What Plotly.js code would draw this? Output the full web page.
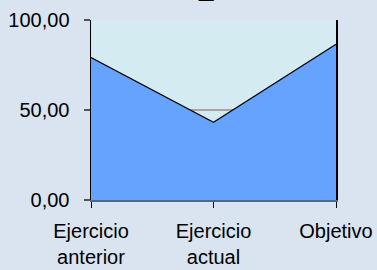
<!DOCTYPE html>
<html>
<head>
<meta charset="utf-8">
<script src="https://cdn.plot.ly/plotly-3.0.1.min.js"></script>
<style>html,body{margin:0;padding:0;background:#d9e4f0;}#chart{width:377px;height:270px;}</style>
</head>
<body>
<div id="chart"></div>
<script>
var categories = ["Ejercicio<br>anterior", "Ejercicio<br>actual", "Objetivo"];
var values = [79.1, 43.2, 86.5];
var yTickVals = [0, 50, 100];
var yTickText = ["0,00", "50,00", "100,00"];

var trace = {
  x: categories,
  y: values,
  type: 'scatter',
  mode: 'lines',
  fill: 'tozeroy',
  fillcolor: '#66a3ff',
  line: {color: '#000000', width: 1.2},
  hoverinfo: 'skip'
};

var layout = {
  width: 377, height: 270,
  margin: {l: 91, r: 41, t: 20, b: 70, pad: 0},
  paper_bgcolor: '#d9e4f0',
  plot_bgcolor: '#d3ebf1',
  showlegend: false,
  font: {family: 'Arial, "Liberation Sans", sans-serif', size: 20, color: '#000000'},
  xaxis: {
    type: 'category',
    range: [0, 2],
    showgrid: false,
    zeroline: false,
    showline: true,
    linecolor: '#4d6a8c',
    linewidth: 2,
    ticks: 'outside',
    ticklen: 6,
    tickcolor: '#000000',
    tickwidth: 1,
    ticklabelstandoff: 6,
    tickfont: {size: 20},
    fixedrange: true
  },
  yaxis: {
    range: [0, 100],
    tickvals: yTickVals,
    ticktext: yTickText,
    showgrid: true,
    gridcolor: '#a6a6a6',
    gridwidth: 2,
    zeroline: false,
    showline: true,
    mirror: true,
    linecolor: '#000000',
    linewidth: 1.5,
    ticks: 'outside',
    ticklen: 6,
    tickcolor: '#555555',
    tickwidth: 2,
    ticklabelstandoff: 10,
    tickfont: {size: 20},
    fixedrange: true
  },
  annotations: [{
    text: '_',
    xref: 'paper', yref: 'paper',
    x: 0.47, y: 1.09,
    xanchor: 'center', yanchor: 'bottom',
    showarrow: false,
    font: {size: 26, color: '#000000', family: 'Arial, "Liberation Sans", sans-serif'}
  }]
};

Plotly.newPlot('chart', [trace], layout, {displayModeBar: false, staticPlot: true});
</script>
</body>
</html>
